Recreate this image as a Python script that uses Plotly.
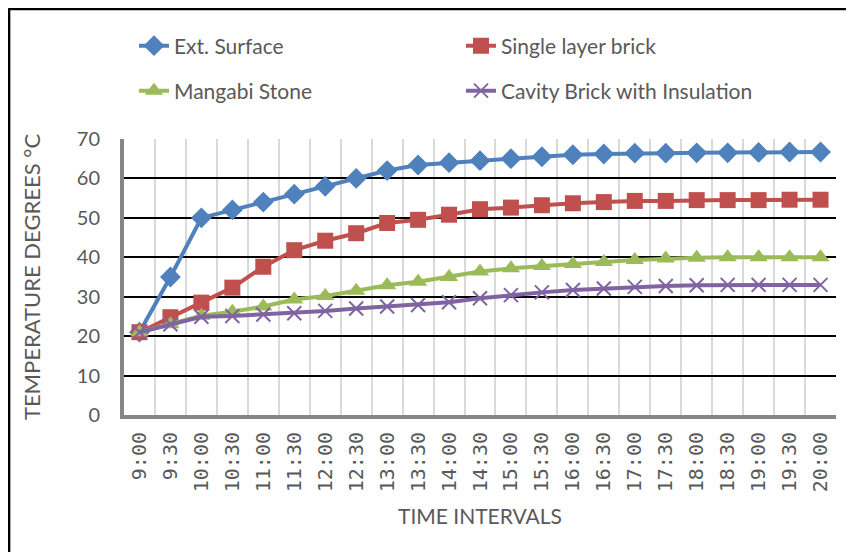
import plotly.graph_objects as go

times = ["9:00", "9:30", "10:00", "10:30", "11:00", "11:30", "12:00", "12:30",
         "13:00", "13:30", "14:00", "14:30", "15:00", "15:30", "16:00", "16:30",
         "17:00", "17:30", "18:00", "18:30", "19:00", "19:30", "20:00"]

ext_surface = [21, 35, 50, 52, 54, 56, 58, 60, 62, 63.4, 64, 64.5, 65, 65.5, 66,
               66.2, 66.4, 66.4, 66.5, 66.5, 66.6, 66.7, 66.7]
single_brick = [21, 24.8, 28.5, 32.3, 37.6, 41.8, 44.2, 46.1, 48.7, 49.5, 50.8, 52.2,
                52.6, 53.2, 53.7, 54, 54.3, 54.3, 54.5, 54.5, 54.5, 54.6, 54.6]
mangabi = [21, 23, 25.2, 26.2, 27.5, 29.3, 30.2, 31.5, 32.9, 33.8, 35, 36.4, 37.2,
           37.8, 38.3, 38.8, 39.3, 39.7, 39.9, 40, 40, 40, 40]
cavity = [21, 23, 24.9, 25.1, 25.5, 25.8, 26.4, 27, 27.5, 27.9, 28.6, 29.6, 30.4,
          31.1, 31.7, 32.1, 32.5, 32.7, 32.9, 33, 33, 33, 33]

series_names = ["Ext. Surface", "Single layer brick", "Mangabi Stone",
                "Cavity Brick with Insulation"]
colors = ["#4F81BD", "#C0504D", "#9BBB59", "#8064A2"]
symbols = ["diamond", "square", "triangle-up", "x-thin"]
legends = ["legend", "legend", "legend2", "legend2"]

FONT = "Lato"
GREY_TXT = "#595959"

fig = go.Figure()
for name, vals, col, sym, lg in zip(series_names,
                                    [ext_surface, single_brick, mangabi, cavity],
                                    colors, symbols, legends):
    marker = dict(symbol=sym, size=16, color=col)
    if sym == "x-thin":
        marker = dict(symbol=sym, size=14, color=col, line=dict(color=col, width=2))
    fig.add_trace(go.Scatter(x=times, y=vals, mode="lines+markers", name=name,
                             line=dict(color=col, width=4), marker=marker,
                             legend=lg))

# page body has an 8px margin; work in screen pixels and convert
OFF = 8
W, H = 838, 544
L, T = 124 - OFF, 139 - OFF
R = W - (836.5 - OFF)
B = H - (415 - OFF)
pw, ph = W - L - R, H - T - B

def px_x(p):
    return (p - OFF - L) / pw

def px_y(p):
    return (H - B - (p - OFF)) / ph

legend_common = dict(orientation="h", xanchor="left", yanchor="middle",
                      font=dict(family=FONT, size=21, color=GREY_TXT),
                      entrywidth=282, entrywidthmode="pixels",
                      bgcolor="rgba(0,0,0,0)", itemclick=False)

fig.update_layout(
    width=W, height=H,
    margin=dict(l=L, r=R, t=T, b=B),
    paper_bgcolor="white", plot_bgcolor="white",
    font=dict(family=FONT, color=GREY_TXT),
    legend=dict(x=px_x(134), y=px_y(46), **legend_common),
    legend2=dict(x=px_x(134), y=px_y(91), **legend_common),
    xaxis=dict(
        type="category", range=[-0.5, 22.5], tickson="boundaries",
        showgrid=True, gridcolor="#D9D9D9", gridwidth=2,
        showline=True, linecolor="#868686", linewidth=4,
        ticks="", tickangle=-90, ticklabelstandoff=5,
        tickfont=dict(family="DejaVu Sans Mono", size=20, color=GREY_TXT),
        title=dict(text="TIME INTERVALS", standoff=19,
                   font=dict(family=FONT, size=21, color=GREY_TXT)),
    ),
    yaxis=dict(
        range=[0, 70], dtick=10, tick0=0,
        showgrid=True, gridcolor="black", gridwidth=2, zeroline=False,
        showline=True, linecolor="#868686", linewidth=4,
        ticks="", ticklabelstandoff=16,
        tickfont=dict(family=FONT, size=20, color=GREY_TXT),
        title=dict(text="TEMPERATURE DEGREES °C", standoff=31,
                   font=dict(family=FONT, size=22, color=GREY_TXT)),
    ),
    shapes=[
        dict(type="line", xref="paper", yref="paper",
             x0=px_x(8), x1=px_x(870), y0=px_y(9), y1=px_y(9),
             line=dict(color="black", width=2.5)),
        dict(type="line", xref="paper", yref="paper",
             x0=px_x(9), x1=px_x(9), y0=px_y(9), y1=px_y(580),
             line=dict(color="black", width=2.5)),
    ],
)

fig.write_html("out.html")
